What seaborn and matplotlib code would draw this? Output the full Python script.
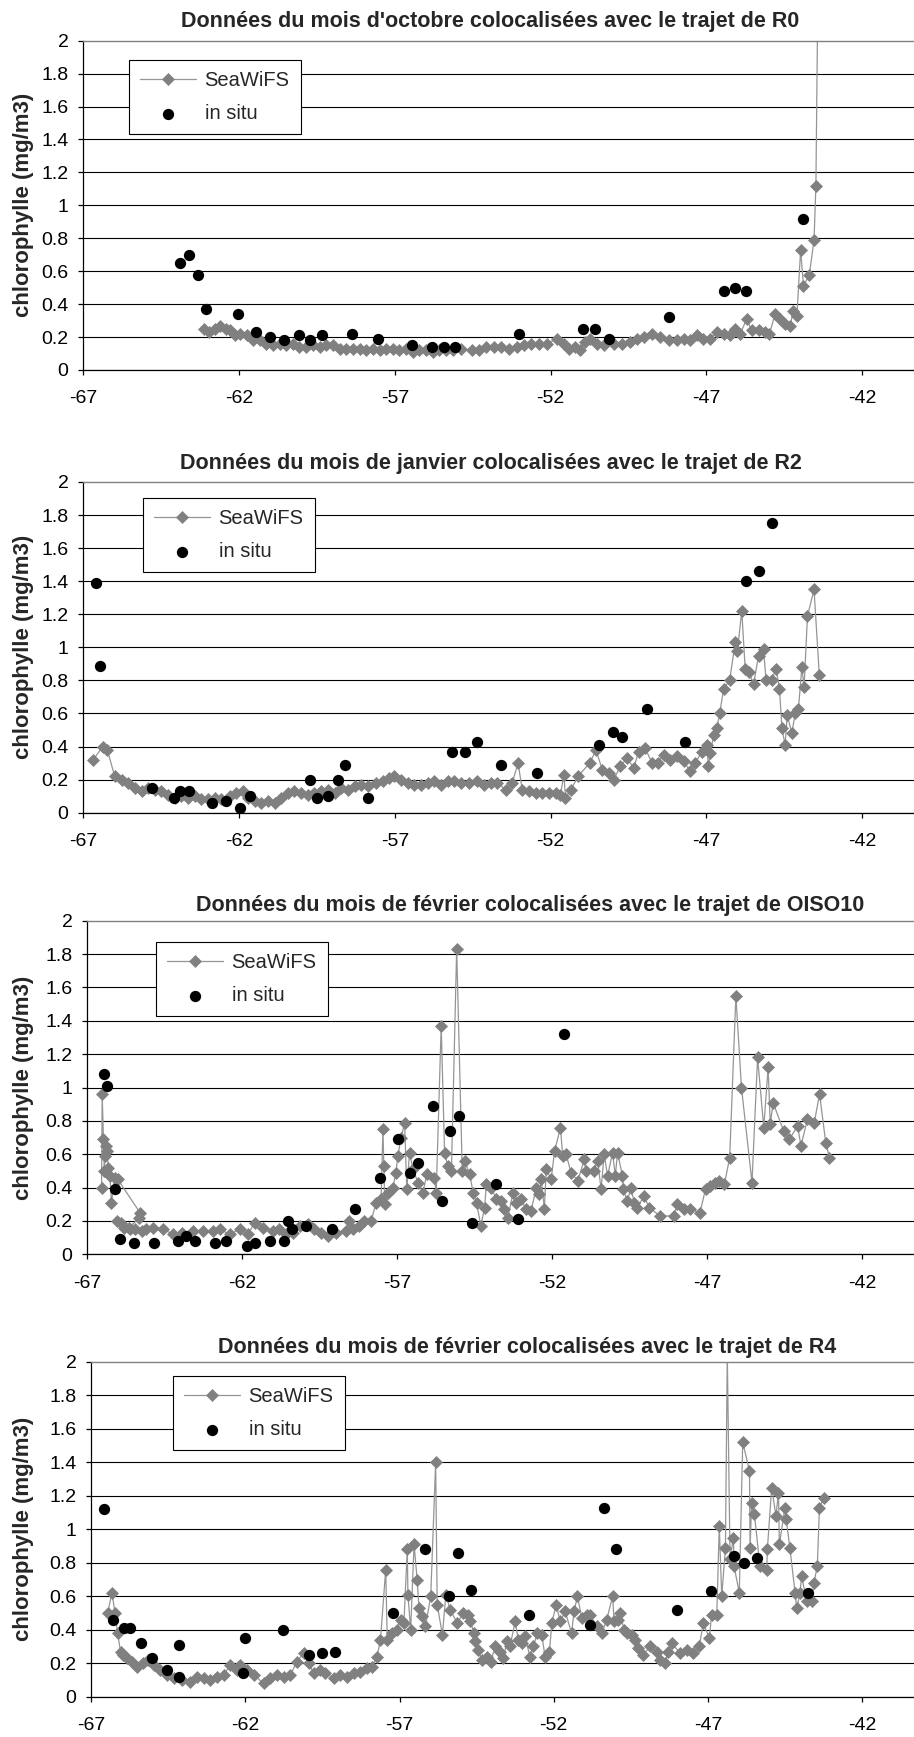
import matplotlib
matplotlib.use('Agg')
import matplotlib.pyplot as plt
import seaborn as sns

#%% data : longitude (deg) and chlorophyll (mg/m3)

# --- R0, octobre ---
sw1_lon = [-63.13, -62.96, -62.78, -62.60, -62.43, -62.30, -62.14, -61.98, -61.76, -61.55,
           -61.34, -61.12, -60.91, -60.70, -60.48, -60.27, -60.06, -59.84, -59.63, -59.41,
           -59.20, -58.99, -58.77, -58.56, -58.35, -58.13, -57.92, -57.71, -57.49, -57.28,
           -57.06, -56.85, -56.64, -56.42, -56.21, -56.00, -55.78, -55.57, -55.35, -55.14,
           -54.88, -54.51, -54.30, -54.08, -53.82, -53.60, -53.34, -53.07, -52.85, -52.64,
           -52.37, -52.11, -51.79, -51.57, -51.41, -51.23, -51.04, -50.88, -50.72, -50.50,
           -50.29, -49.97, -49.70, -49.44, -49.22, -49.01, -48.74, -48.47, -48.21, -47.94,
           -47.73, -47.51, -47.30, -47.09, -46.87, -46.66, -46.44, -46.23, -46.07, -45.91,
           -45.70, -45.54, -45.32, -45.11, -44.97, -44.79, -44.63, -44.47, -44.31, -44.20,
           -44.09, -43.97, -43.88, -43.69, -43.54, -43.48, -43.40]
sw1_chl = [0.25, 0.23, 0.25, 0.27, 0.25, 0.24, 0.21, 0.22, 0.21, 0.18,
           0.18, 0.16, 0.15, 0.16, 0.15, 0.16, 0.14, 0.14, 0.15, 0.14,
           0.15, 0.15, 0.13, 0.13, 0.13, 0.13, 0.12, 0.13, 0.12, 0.13,
           0.13, 0.12, 0.13, 0.11, 0.12, 0.12, 0.11, 0.12, 0.12, 0.12,
           0.13, 0.12, 0.12, 0.14, 0.14, 0.14, 0.13, 0.14, 0.15, 0.16,
           0.16, 0.16, 0.19, 0.16, 0.13, 0.14, 0.12, 0.17, 0.19, 0.16,
           0.15, 0.16, 0.16, 0.17, 0.19, 0.20, 0.22, 0.20, 0.18, 0.18,
           0.19, 0.18, 0.21, 0.19, 0.19, 0.23, 0.22, 0.21, 0.25, 0.22,
           0.31, 0.24, 0.24, 0.23, 0.22, 0.34, 0.31, 0.28, 0.27, 0.36,
           0.33, 0.73, 0.51, 0.58, 0.79, 1.12, 2.60]
is1_lon = [-63.90, -63.62, -63.31, -63.05, -62.03, -61.44, -61.00, -60.56, -60.09, -59.72,
           -59.34, -58.38, -57.54, -56.44, -55.81, -55.43, -55.06, -53.01, -50.96, -50.58,
           -50.11, -48.21, -46.42, -46.09, -45.72, -43.91]
is1_chl = [0.65, 0.70, 0.58, 0.37, 0.34, 0.23, 0.20, 0.18, 0.21, 0.18,
           0.21, 0.22, 0.19, 0.15, 0.14, 0.14, 0.14, 0.22, 0.25, 0.25,
           0.19, 0.32, 0.48, 0.50, 0.48, 0.92]

# --- R2, janvier ---
sw2_lon = [-66.68, -66.38, -66.23, -65.99, -65.77, -65.56, -65.34, -65.13, -64.92, -64.70,
           -64.49, -64.28, -64.06, -63.85, -63.63, -63.42, -63.21, -62.99, -62.78, -62.57,
           -62.30, -62.09, -61.87, -61.71, -61.50, -61.28, -61.07, -60.86, -60.64, -60.43,
           -60.22, -60.00, -59.79, -59.58, -59.36, -59.15, -58.93, -58.72, -58.51, -58.29,
           -58.08, -57.87, -57.60, -57.38, -57.17, -57.01, -56.79, -56.58, -56.37, -56.15,
           -55.94, -55.73, -55.51, -55.30, -55.09, -54.88, -54.62, -54.35, -54.14, -53.92,
           -53.71, -53.44, -53.23, -53.04, -52.91, -52.69, -52.48, -52.27, -52.05, -51.84,
           -51.68, -51.57, -51.52, -51.34, -51.12, -50.74, -50.54, -50.34, -50.13, -49.97,
           -49.76, -49.54, -49.33, -49.17, -48.96, -48.74, -48.56, -48.37, -48.16, -47.94,
           -47.73, -47.51, -47.35, -47.14, -46.98, -46.93, -46.87, -46.76, -46.66, -46.57,
           -46.44, -46.25, -46.07, -46.00, -45.86, -45.75, -45.64, -45.48, -45.32, -45.16,
           -45.08, -44.90, -44.76, -44.65, -44.57, -44.47, -44.40, -44.25, -44.15, -44.04,
           -43.93, -43.86, -43.75, -43.54, -43.37]
sw2_chl = [0.32, 0.40, 0.38, 0.22, 0.20, 0.18, 0.15, 0.13, 0.15, 0.14,
           0.13, 0.11, 0.09, 0.10, 0.09, 0.10, 0.08, 0.08, 0.09, 0.08,
           0.10, 0.12, 0.13, 0.09, 0.07, 0.06, 0.07, 0.06, 0.09, 0.12,
           0.13, 0.12, 0.11, 0.12, 0.13, 0.14, 0.12, 0.15, 0.14, 0.16,
           0.17, 0.16, 0.18, 0.19, 0.21, 0.22, 0.20, 0.18, 0.17, 0.17,
           0.18, 0.19, 0.17, 0.19, 0.19, 0.18, 0.18, 0.19, 0.17, 0.18,
           0.18, 0.14, 0.18, 0.30, 0.14, 0.13, 0.12, 0.12, 0.12, 0.12,
           0.11, 0.23, 0.09, 0.14, 0.22, 0.30, 0.38, 0.26, 0.24, 0.20,
           0.28, 0.33, 0.27, 0.37, 0.39, 0.30, 0.30, 0.35, 0.32, 0.34,
           0.31, 0.25, 0.30, 0.37, 0.41, 0.28, 0.36, 0.47, 0.51, 0.60,
           0.75, 0.80, 1.03, 0.98, 1.22, 0.87, 0.85, 0.78, 0.95, 0.99,
           0.80, 0.80, 0.87, 0.75, 0.51, 0.41, 0.59, 0.48, 0.60, 0.63,
           0.88, 0.76, 1.19, 1.35, 0.83]
is2_lon = [-66.59, -66.46, -64.79, -64.09, -63.90, -63.62, -62.87, -62.43, -61.98, -61.65,
           -59.72, -59.51, -59.14, -58.83, -58.61, -57.87, -55.17, -54.76, -54.37, -53.60,
           -52.43, -50.43, -50.00, -49.69, -48.90, -47.69, -45.72, -45.31, -44.88]
is2_chl = [1.39, 0.89, 0.15, 0.09, 0.13, 0.13, 0.06, 0.07, 0.03, 0.10,
           0.20, 0.09, 0.10, 0.20, 0.29, 0.09, 0.37, 0.37, 0.43, 0.29,
           0.24, 0.41, 0.49, 0.46, 0.63, 0.43, 1.40, 1.46, 1.75]

# --- OISO10, fevrier ---
sw3_lon = [-66.54, -66.52, -66.48, -66.45, -66.43, -66.40, -66.37, -66.32, -66.27, -66.22,
           -66.12, -66.02, -65.30, -65.32, -65.65, -66.05, -65.92, -65.80, -65.62, -65.45,
           -65.25, -65.09, -64.87, -64.55, -64.23, -63.96, -63.58, -63.26, -62.94, -62.73,
           -62.40, -62.08, -61.81, -61.60, -61.33, -61.01, -60.80, -60.58, -60.37, -60.15,
           -59.88, -59.67, -59.46, -59.24, -58.97, -58.65, -58.54, -58.43, -58.22, -58.06,
           -57.84, -57.68, -57.52, -57.46, -57.43, -57.40, -57.30, -57.14, -57.04, -56.98,
           -56.87, -56.76, -56.69, -56.60, -56.49, -56.33, -56.17, -56.04, -55.80, -55.74,
           -55.58, -55.47, -55.37, -55.25, -55.08, -54.90, -54.82, -54.66, -54.55, -54.44,
           -54.30, -54.18, -54.12, -53.96, -53.80, -53.64, -53.54, -53.43, -53.26, -53.16,
           -53.00, -52.84, -52.68, -52.51, -52.41, -52.35, -52.25, -52.19, -52.03, -51.92,
           -51.73, -51.66, -51.55, -51.39, -51.17, -50.96, -50.91, -50.66, -50.53, -50.42,
           -50.32, -50.21, -50.05, -49.96, -49.89, -49.73, -49.70, -49.57, -49.46, -49.35,
           -49.25, -49.03, -48.87, -48.52, -48.07, -47.96, -47.75, -47.55, -47.23, -47.05,
           -46.89, -46.73, -46.62, -46.44, -46.27, -46.07, -45.89, -45.55, -45.37, -45.17,
           -45.03, -44.96, -44.87, -44.53, -44.34, -44.08, -43.97, -43.76, -43.54, -43.37,
           -43.17, -43.05]
sw3_chl = [0.40, 0.96, 0.69, 0.50, 0.59, 0.65, 0.62, 0.52, 0.47, 0.31,
           0.46, 0.45, 0.25, 0.22, 0.16, 0.20, 0.19, 0.16, 0.15, 0.15,
           0.14, 0.15, 0.16, 0.15, 0.12, 0.13, 0.14, 0.14, 0.14, 0.15,
           0.12, 0.15, 0.12, 0.19, 0.16, 0.14, 0.15, 0.12, 0.13, 0.17,
           0.18, 0.15, 0.13, 0.11, 0.13, 0.14, 0.20, 0.15, 0.17, 0.20,
           0.20, 0.31, 0.33, 0.75, 0.53, 0.30, 0.37, 0.40, 0.49, 0.59,
           0.70, 0.79, 0.39, 0.61, 0.51, 0.43, 0.37, 0.48, 0.46, 0.37,
           1.37, 0.61, 0.53, 0.50, 1.83, 0.50, 0.56, 0.48, 0.37, 0.31,
           0.17, 0.28, 0.42, 0.40, 0.33, 0.32, 0.27, 0.22, 0.37, 0.31,
           0.33, 0.27, 0.26, 0.40, 0.36, 0.45, 0.27, 0.51, 0.45, 0.62,
           0.76, 0.59, 0.60, 0.49, 0.44, 0.57, 0.50, 0.50, 0.56, 0.39,
           0.60, 0.47, 0.61, 0.47, 0.61, 0.47, 0.39, 0.32, 0.40, 0.31,
           0.28, 0.35, 0.28, 0.23, 0.23, 0.30, 0.27, 0.27, 0.25, 0.39,
           0.41, 0.43, 0.44, 0.42, 0.58, 1.55, 1.00, 0.43, 1.18, 0.76,
           1.12, 0.78, 0.91, 0.74, 0.69, 0.77, 0.65, 0.81, 0.79, 0.96,
           0.67, 0.58]
is3_lon = [-66.45, -66.38, -66.11, -65.93, -65.49, -64.85, -64.07, -63.80, -63.53, -62.89,
           -62.53, -61.84, -61.60, -61.09, -60.66, -60.52, -60.39, -59.95, -59.11, -58.37,
           -57.57, -56.98, -56.60, -56.33, -55.83, -55.55, -55.30, -55.01, -54.58, -53.82,
           -53.10, -51.62]
is3_chl = [1.08, 1.01, 0.39, 0.09, 0.07, 0.07, 0.08, 0.11, 0.08, 0.07,
           0.08, 0.05, 0.07, 0.08, 0.08, 0.20, 0.15, 0.17, 0.15, 0.27,
           0.46, 0.69, 0.49, 0.55, 0.89, 0.32, 0.74, 0.83, 0.19, 0.42,
           0.21, 1.32]

# --- R4, fevrier ---
sw4_lon = [-66.47, -66.33, -66.23, -66.15, -66.05, -65.96, -65.85, -65.69, -65.53, -65.31,
           -65.15, -64.98, -64.77, -64.55, -64.33, -64.06, -63.81, -63.58, -63.36, -63.14,
           -62.93, -62.71, -62.49, -62.28, -62.17, -61.95, -61.73, -61.41, -61.19, -60.98,
           -60.76, -60.54, -60.33, -60.11, -59.95, -59.78, -59.57, -59.41, -59.13, -58.92,
           -58.70, -58.48, -58.27, -58.05, -57.89, -57.73, -57.62, -57.45, -57.40, -57.24,
           -57.08, -56.97, -56.86, -56.75, -56.73, -56.64, -56.53, -56.43, -56.37, -56.26,
           -56.16, -55.99, -55.83, -55.78, -55.61, -55.50, -55.36, -55.13, -54.93, -54.77,
           -54.71, -54.58, -54.55, -54.44, -54.34, -54.17, -54.04, -53.90, -53.74, -53.63,
           -53.52, -53.42, -53.25, -53.15, -53.04, -52.93, -52.77, -52.66, -52.53, -52.39,
           -52.28, -52.14, -52.06, -51.92, -51.79, -51.63, -51.42, -51.34, -51.23, -51.09,
           -50.93, -50.82, -50.61, -50.44, -50.28, -50.09, -50.04, -49.90, -49.85, -49.72,
           -49.63, -49.47, -49.36, -49.25, -49.09, -48.88, -48.66, -48.55, -48.39, -48.28,
           -48.17, -47.90, -47.69, -47.47, -47.28, -47.15, -46.95, -46.88, -46.71, -46.63,
           -46.55, -46.43, -46.37, -46.28, -46.17, -46.15, -45.98, -45.87, -45.65, -45.63,
           -45.58, -45.49, -45.31, -45.09, -45.07, -44.93, -44.79, -44.71, -44.68, -44.50,
           -44.46, -44.34, -44.17, -44.12, -44.01, -43.96, -43.79, -43.63, -43.56, -43.45,
           -43.38, -43.23]
sw4_chl = [0.50, 0.62, 0.50, 0.38, 0.27, 0.25, 0.23, 0.21, 0.18, 0.20,
           0.22, 0.19, 0.16, 0.13, 0.11, 0.10, 0.09, 0.12, 0.11, 0.10,
           0.12, 0.13, 0.19, 0.16, 0.19, 0.16, 0.13, 0.08, 0.11, 0.13,
           0.12, 0.13, 0.21, 0.26, 0.20, 0.14, 0.16, 0.14, 0.11, 0.13,
           0.12, 0.14, 0.15, 0.17, 0.18, 0.24, 0.34, 0.76, 0.34, 0.38,
           0.40, 0.46, 0.44, 0.88, 0.61, 0.40, 0.91, 0.70, 0.53, 0.48,
           0.42, 0.60, 1.40, 0.55, 0.37, 0.61, 0.52, 0.44, 0.50, 0.49,
           0.45, 0.38, 0.33, 0.28, 0.22, 0.24, 0.21, 0.30, 0.27, 0.23,
           0.33, 0.30, 0.45, 0.34, 0.32, 0.36, 0.24, 0.30, 0.38, 0.37,
           0.24, 0.27, 0.44, 0.55, 0.45, 0.51, 0.38, 0.51, 0.60, 0.47,
           0.49, 0.49, 0.42, 0.38, 0.46, 0.60, 0.45, 0.46, 0.50, 0.40,
           0.38, 0.37, 0.34, 0.29, 0.25, 0.30, 0.27, 0.22, 0.20, 0.27,
           0.32, 0.26, 0.28, 0.26, 0.30, 0.44, 0.35, 0.49, 0.49, 1.02,
           0.60, 0.89, 2.05, 0.82, 0.95, 0.78, 0.62, 1.52, 1.35, 0.89,
           1.16, 1.09, 0.78, 0.76, 0.88, 1.25, 1.08, 1.22, 0.91, 1.13,
           1.06, 0.89, 0.62, 0.53, 0.62, 0.72, 0.57, 0.57, 0.68, 0.78,
           1.13, 1.19]
is4_lon = [-66.58, -66.31, -65.94, -65.76, -65.40, -65.02, -64.55, -64.16, -64.16, -62.08,
           -62.03, -60.79, -59.94, -59.51, -59.08, -57.21, -56.19, -55.40, -55.10, -54.69,
           -52.81, -50.81, -50.37, -49.98, -48.01, -46.91, -46.14, -45.82, -45.42, -43.74]
is4_chl = [1.12, 0.46, 0.41, 0.41, 0.32, 0.23, 0.16, 0.31, 0.12, 0.14,
           0.35, 0.40, 0.25, 0.26, 0.27, 0.50, 0.88, 0.60, 0.86, 0.64,
           0.49, 0.43, 1.13, 0.88, 0.52, 0.63, 0.84, 0.80, 0.83, 0.62]

titles = ["Données du mois d'octobre colocalisées avec le trajet de R0",
          "Données du mois de janvier colocalisées avec le trajet de R2",
          "Données du mois de février colocalisées avec le trajet de OISO10",
          "Données du mois de février colocalisées avec le trajet de R4"]

lon_ticks = [-67, -62, -57, -52, -47, -42]
lon_labels = ['-67', '-62', '-57', '-52', '-47', '-42']
chl_ticks = [0, 0.2, 0.4, 0.6, 0.8, 1.0, 1.2, 1.4, 1.6, 1.8, 2.0]
chl_labels = ['0', '0.2', '0.4', '0.6', '0.8', '1', '1.2', '1.4', '1.6', '1.8', '2']

#%% layout (pixels of the 914 x 1737 figure)
W, H = 914, 1737
# left, top, bottom of plot area ; legend upper-left ; title centre x, baseline y
layout = [
    dict(left=83.3, top=40.7, bottom=370.0, leg=(129, 60), tx=490, ty=26.7),
    dict(left=83.3, top=482.0, bottom=812.7, leg=(143, 498), tx=491, ty=469.0),
    dict(left=87.3, top=920.7, bottom=1254.3, leg=(156, 942), tx=530, ty=910.7),
    dict(left=91.3, top=1362.0, bottom=1696.7, leg=(173, 1376), tx=527, ty=1353.3),
]
series = [(sw1_lon, sw1_chl, is1_lon, is1_chl),
          (sw2_lon, sw2_chl, is2_lon, is2_chl),
          (sw3_lon, sw3_chl, is3_lon, is3_chl),
          (sw4_lon, sw4_chl, is4_lon, is4_chl)]

sns.set_style('ticks')
plt.rcParams['font.family'] = ['Liberation Sans', 'DejaVu Sans']
plt.rcParams['axes.unicode_minus'] = False

fig = plt.figure(figsize=(W / 100, H / 100), dpi=100)

for i, (lay, (sw_lon, sw_chl, is_lon, is_chl)) in enumerate(zip(layout, series)):
    left = lay['left'] / W
    bottom = 1 - lay['bottom'] / H
    height = (lay['bottom'] - lay['top']) / H
    ax = fig.add_axes([left, bottom, 1 - left, height])

    sns.lineplot(x=sw_lon, y=sw_chl, sort=False, estimator=None, ax=ax,
                 color='#959595', linewidth=0.9, marker='D', markersize=6,
                 markerfacecolor='#808080', markeredgecolor='#808080',
                 markeredgewidth=0.5, label='SeaWiFS')
    sns.scatterplot(x=is_lon, y=is_chl, ax=ax, color='black', s=66,
                    linewidth=0, label='in situ', zorder=4)

    # x axis runs to the right edge of the picture
    px_per_deg = (862 - lay['left']) / 25
    ax.set_xlim(-67, -42 + (W - 862) / px_per_deg)
    ax.set_ylim(0, 2)
    ax.set_xticks(lon_ticks)
    ax.set_xticklabels(lon_labels)
    ax.set_yticks(chl_ticks)
    ax.set_yticklabels(chl_labels)
    ax.set_xlabel('')
    ax.set_ylabel('')

    ax.grid(axis='y', color='black', linewidth=0.8)
    ax.set_axisbelow(True)
    ax.get_ygridlines()[-1].set_visible(False)

    ax.spines['right'].set_visible(False)
    ax.spines['top'].set_color('#808080')
    ax.spines['top'].set_linewidth(1.0)
    for s in ['left', 'bottom']:
        ax.spines[s].set_color('black')
        ax.spines[s].set_linewidth(0.9)

    ax.tick_params(axis='both', direction='out', length=3.6, width=0.9,
                   color='black', labelsize=14, labelcolor='black')
    ax.tick_params(axis='y', pad=7)
    ax.tick_params(axis='x', pad=11)

    handles, labels = ax.get_legend_handles_labels()
    leg = ax.legend(handles, labels, loc='upper left',
                    bbox_to_anchor=(lay['leg'][0] / W, 1 - lay['leg'][1] / H),
                    bbox_transform=fig.transFigure, borderaxespad=0,
                    frameon=True, fancybox=False, framealpha=1,
                    edgecolor='black', fontsize=14.5, handlelength=2.8,
                    handletextpad=0.4, labelspacing=0.7, borderpad=0.55)
    leg.get_frame().set_linewidth(0.8)

    fig.text(lay['tx'] / W, 1 - lay['ty'] / H, titles[i], ha='center',
             va='baseline', fontsize=15.5, fontweight='bold')
    fig.text(23.5 / W, bottom + height / 2, 'chlorophylle (mg/m3)',
             rotation=90, ha='center', va='center', fontsize=16,
             fontweight='bold')

fig.savefig('out.png', dpi=100)
